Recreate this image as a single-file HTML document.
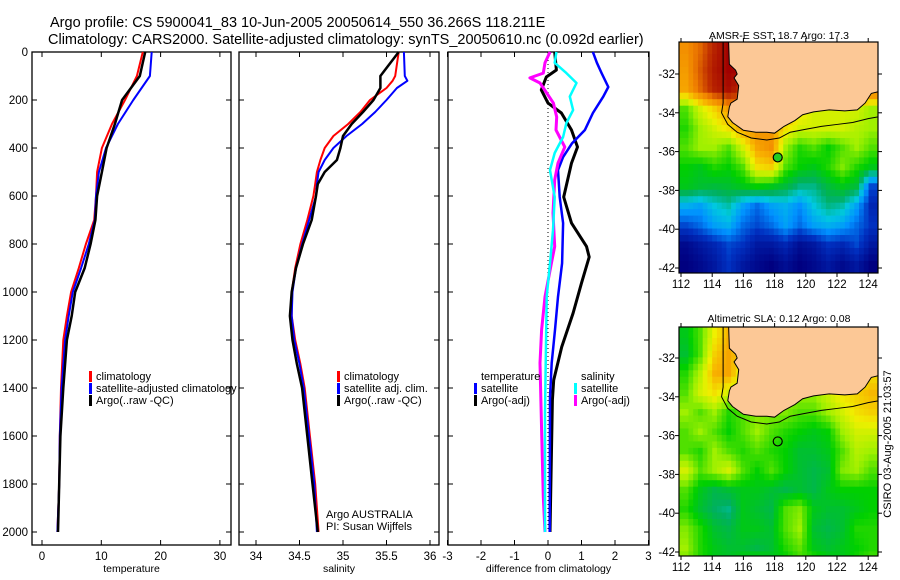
<!DOCTYPE html>
<html><head><meta charset="utf-8"><style>
body{margin:0;background:#fff;}
svg{display:block;font-family:"Liberation Sans",sans-serif;}
</style></head><body>
<svg id="s" width="900" height="580" viewBox="0 0 900 580" xmlns="http://www.w3.org/2000/svg">
<text x="50" y="27" font-size="14.5">Argo profile: CS 5900041_83 10-Jun-2005 20050614_550 36.266S 118.211E</text>
<text x="48" y="44" font-size="14.5">Climatology: CARS2000. Satellite-adjusted climatology: synTS_20050610.nc (0.092d earlier)</text>
<text x="779" y="39" font-size="10.5" text-anchor="middle">AMSR-E SST: 18.7 Argo: 17.3</text>
<text x="779" y="322" font-size="10.5" text-anchor="middle">Altimetric SLA: 0.12 Argo: 0.08</text>
<text transform="translate(891,444) rotate(-90)" font-size="11" text-anchor="middle">CSIRO 03-Aug-2005 21:03:57</text>
</svg>
<script>
// ---- data ----
const depthTicks=[0,200,400,600,800,1000,1200,1400,1600,1800,2000];
const tempTicks=[0,10,20,30];
const salTicks=[34,34.5,35,35.5,36];
const diffTicks=[-3,-2,-1,0,1,2,3];
const tDepth=[0,100,200,300,400,500,600,700,800,900,1000,1100,1200,1400,1600,1800,2000];
const tClim=[17.0,16.0,14.0,11.8,10.1,9.3,9.1,8.8,7.4,6.2,4.9,4.2,3.6,3.2,3.0,2.9,2.6];
const tSat=[18.5,18.2,15.4,12.8,10.8,9.6,9.1,8.9,7.9,6.6,5.2,4.5,3.9,3.3,3.0,2.9,2.6];
const tArgo=[17.4,16.5,13.5,12.3,10.9,10.1,9.3,9.0,8.2,7.2,5.6,5.0,4.2,3.6,3.1,2.9,2.7];
const sDepth=[0,100,120,150,200,250,300,350,400,450,500,550,600,700,800,900,1000,1100,1200,1300,1400,1600,1800,2000];
const sClim=[35.64,35.6,35.57,35.5,35.31,35.2,35.06,34.89,34.79,34.74,34.7,34.68,34.66,34.59,34.51,34.45,34.41,34.41,34.45,34.51,34.56,34.62,34.68,34.72];
const sSat=[35.7,35.71,35.74,35.62,35.5,35.37,35.22,35.04,34.89,34.79,34.72,34.7,34.69,34.61,34.53,34.46,34.42,34.41,34.44,34.5,34.55,34.61,34.67,34.7];
const sArgo=[35.64,35.43,35.43,35.43,35.35,35.23,35.1,35.0,34.97,34.93,34.79,34.71,34.69,34.64,34.54,34.46,34.41,34.39,34.42,34.47,34.53,34.59,34.65,34.71];
const dTSatDepth=[0,45,88,146,186,254,325,380,438,492,604,713,880,1020,1158,1296,1438,2000];
const dTSat=[1.34,1.46,1.6,1.8,1.65,1.34,1.1,0.72,0.45,0.3,0.35,0.45,0.42,0.3,0.21,0.11,0.06,0.05];
const dTArgoDepth=[0,75,104,158,213,254,325,396,463,604,713,810,854,963,1088,1229,1367,1450,2000];
const dTArgo=[0.2,0.25,-0.05,-0.2,0,0.4,0.7,0.88,0.7,0.47,0.7,1.15,1.23,1.0,0.75,0.41,0.17,0.13,0.06];
const dSSatDepth=[0,45,88,129,186,242,296,354,421,492,604,742,880,1020,1500,2000];
const dSSat=[0.25,0.2,0.55,0.85,0.65,0.75,0.55,0.45,0.2,0.06,0.2,0.15,0.06,-0.04,-0.09,-0.09];
const dSArgoDepth=[0,45,88,108,129,171,213,271,325,396,463,533,671,810,880,1020,1158,1296,1575,1854,2000];
const dSArgo=[0.06,-0.09,-0.14,-0.54,-0.24,-0.04,0.16,0.26,0.24,0.5,0.3,0.2,0.15,0.2,0.1,-0.09,-0.19,-0.24,-0.19,-0.14,-0.09];
const lonTicks=[112,114,116,118,120,122,124];
const latTicks=[-32,-34,-36,-38,-40,-42];
const sstGrid=[
[.72,.78,.88,.95,.95,.95,.9,.9,.9,.9,.9,.9,.9,.9],
[.70,.80,.90,.95,.93,.9,.9,.9,.9,.9,.9,.9,.9,.9],
[.68,.78,.88,.92,.85,.8,.8,.8,.8,.8,.8,.8,.8,.8],
[.45,.55,.62,.7,.72,.7,.7,.7,.6,.55,.55,.55,.55,.5],
[.42,.5,.55,.6,.68,.72,.7,.6,.55,.55,.55,.55,.52,.5],
[.45,.5,.5,.45,.55,.68,.72,.5,.42,.45,.4,.45,.5,.45],
[.4,.38,.42,.4,.45,.6,.62,.45,.4,.38,.42,.48,.42,.38],
[.38,.36,.35,.36,.38,.4,.38,.35,.3,.3,.35,.38,.35,.12],
[.22,.2,.25,.28,.2,.15,.2,.22,.18,.25,.3,.28,.2,.08],
[.12,.15,.2,.22,.15,.12,.15,.2,.15,.2,.22,.2,.15,.1],
[.02,.05,.08,.12,.1,.05,.05,.08,.03,.05,.1,.08,.12,.05],
[0,.02,.05,.1,.05,.02,0,.03,0,.02,.05,.02,.05,0],
[0,.02,.05,.1,.05,.02,0,.03,0,.02,.05,.02,.05,0]];
const slaGrid=[
[.38,.45,.58,.66,.66,.5,.5,.5,.5,.5,.5,.5,.5,.5],
[.36,.45,.62,.68,.6,.5,.5,.5,.5,.5,.5,.5,.5,.5],
[.42,.52,.66,.68,.55,.5,.5,.5,.5,.5,.5,.5,.55,.6],
[.45,.55,.6,.55,.5,.5,.5,.5,.5,.5,.55,.6,.62,.65],
[.5,.45,.5,.42,.45,.48,.48,.48,.45,.45,.5,.55,.6,.62],
[.45,.5,.45,.4,.45,.5,.45,.42,.4,.38,.4,.5,.55,.55],
[.45,.42,.5,.45,.42,.45,.42,.4,.36,.36,.38,.45,.52,.5],
[.55,.45,.5,.55,.45,.4,.45,.4,.36,.34,.36,.48,.5,.45],
[.45,.38,.34,.36,.38,.38,.36,.34,.36,.34,.38,.4,.4,.4],
[.42,.36,.32,.3,.38,.36,.34,.45,.48,.38,.36,.36,.38,.4],
[.48,.42,.36,.34,.38,.38,.36,.45,.5,.36,.34,.36,.42,.42],
[.5,.42,.38,.36,.36,.34,.36,.42,.46,.38,.36,.38,.4,.42],
[.46,.42,.38,.38,.42,.46,.4,.38,.42,.46,.42,.38,.42,.46]];
const coastLon=[115.05,115.1,115.5,115.6,115.4,115.7,115.6,115.2,115.1,115.0,115.3,116.0,116.8,117.5,118.0,118.6,119.3,119.8,120.5,121.5,122.5,123.3,123.8,124.2,124.7,124.7];
const coastLat=[-30.3,-31.5,-31.8,-32.0,-32.2,-32.6,-33.3,-33.5,-33.7,-34.2,-34.5,-34.9,-35.0,-35.0,-35.05,-34.7,-34.4,-34.1,-33.95,-33.85,-33.9,-33.85,-33.5,-33.0,-32.9,-30.3];
const shelfLon=[114.7,114.7,114.6,115.0,115.6,116.5,117.5,118.3,119.0,120.0,121.0,122.0,123.0,124.0,124.7];
const shelfLat=[-30.3,-33.5,-34.0,-34.6,-35.0,-35.3,-35.4,-35.3,-35.0,-34.85,-34.7,-34.6,-34.5,-34.3,-34.2];
const argoLon=118.2, argoLat=-36.3;

// ---- helpers ----
const NS='http://www.w3.org/2000/svg';
const svg=document.getElementById('s');
function mk(tag,attrs,parent){const e=document.createElementNS(NS,tag);for(const k in attrs)e.setAttribute(k,attrs[k]);(parent||svg).appendChild(e);return e;}
const Y=d=>52+d*0.24;
const panels=[
 {x0:32,x1:231,fx:v=>42+v*5.93,ticks:tempTicks,label:'temperature',name:'temperature-panel'},
 {x0:239,x1:439,fx:v=>256+(v-34)*87,ticks:salTicks,label:'salinity',name:'salinity-panel'},
 {x0:448,x1:649,fx:v=>548+v*33.5,ticks:diffTicks,label:'difference from climatology',name:'difference-panel'}];
const yTop=52,yBot=545;
panels.forEach((p,i)=>{
 const g=mk('g',{});
 
 
 mk('rect',{x:p.x0,y:yTop,width:p.x1-p.x0,height:yBot-yTop,fill:'none',stroke:'#000','stroke-width':1.3},g);
 depthTicks.forEach(d=>{
  mk('line',{x1:p.x0,x2:p.x0+5,y1:Y(d),y2:Y(d),stroke:'#000'},g);
  mk('line',{x1:p.x1,x2:p.x1-5,y1:Y(d),y2:Y(d),stroke:'#000'},g);
  if(i===0){const t=mk('text',{x:28,y:Y(d)+4,'font-size':11.5,'text-anchor':'end'},svg);t.textContent=d;
   
   }
 });
 p.ticks.forEach(v=>{
  const x=p.fx(v);
  mk('line',{x1:x,x2:x,y1:yBot,y2:yBot-5,stroke:'#000'},g);
  mk('line',{x1:x,x2:x,y1:yTop,y2:yTop+5,stroke:'#000'},g);
  const t=mk('text',{x:x,y:560,'font-size':11.5,'text-anchor':'middle'},svg);t.textContent=v;
  
  
 });
 const t=mk('text',{x:(p.x0+p.x1)/2,y:572,'font-size':10.5,'text-anchor':'middle'},svg);t.textContent=p.label;
 
 
});
function line(xs,ds,fx,col,w,name){
 const pts=xs.map((v,i)=>fx(v).toFixed(1)+','+Y(ds[i]).toFixed(1)).join(' ');
 const e=mk('polyline',{points:pts,fill:'none',stroke:col,'stroke-width':w,'stroke-linejoin':'round'});
 
 
}
const P=panels;
line(tClim,tDepth,P[0].fx,'#f00',2,'temp-climatology-line');
line(tSat,tDepth,P[0].fx,'#00f',2,'temp-satellite-line');
line(tArgo,tDepth,P[0].fx,'#000',2.5,'temp-argo-line');
line(sClim,sDepth,P[1].fx,'#f00',2,'sal-climatology-line');
line(sSat,sDepth,P[1].fx,'#00f',2,'sal-satellite-line');
line(sArgo,sDepth,P[1].fx,'#000',2.5,'sal-argo-line');
const zl=mk('line',{x1:P[2].fx(0),x2:P[2].fx(0),y1:yTop,y2:yBot-13,stroke:'#000','stroke-dasharray':'1,3'});


line(dTArgo,dTArgoDepth,P[2].fx,'#000',3,'diff-temp-argo-line');
line(dTSat,dTSatDepth,P[2].fx,'#00f',2.5,'diff-temp-satellite-line');
line(dSArgo,dSArgoDepth,P[2].fx,'#f0f',3,'diff-sal-argo-line');
line(dSSat,dSSatDepth,P[2].fx,'#0ff',2.5,'diff-sal-satellite-line');

function legend(x,y,col,label){
 if(col) mk('rect',{x:x-7,y:y-9,width:3,height:11,fill:col});
 const t=mk('text',{x:x,y:y,'font-size':11}); t.textContent=label;
 
 
}
legend(96,380,'#f00','climatology');legend(96,392,'#00f','satellite-adjusted climatology');legend(96,404,'#000','Argo(..raw -QC)');
legend(344,380,'#f00','climatology');legend(344,392,'#00f','satellite adj. clim.');legend(344,404,'#000','Argo(..raw -QC)');
legend(326,518,null,'Argo AUSTRALIA');legend(326,530,null,'PI: Susan Wijffels');
legend(481,380,null,'temperature');legend(481,392,'#00f','satellite');legend(481,404,'#000','Argo(-adj)');
legend(581,380,null,'salinity');legend(581,392,'#0ff','satellite');legend(581,404,'#f0f','Argo(-adj)');

// ---- maps ----
const stops=[[0,[0,0,128]],[.1,[0,48,192]],[.18,[0,144,255]],[.25,[0,200,224]],[.32,[0,176,96]],[.4,[0,208,0]],[.5,[160,240,0]],[.58,[240,240,0]],[.66,[248,176,0]],[.75,[240,128,0]],[.85,[192,48,0]],[.95,[160,0,0]],[1,[160,0,0]]];
function cmap(v){for(let i=1;i<stops.length;i++){if(v<=stops[i][0]){const a=stops[i-1],b=stops[i],f=(v-a[0])/(b[0]-a[0]);return 'rgb('+a[1].map((c,k)=>Math.round(c+(b[1][k]-c)*f)).join(',')+')';}}return 'rgb(160,0,0)';}
function sample(grid,r,c){
 const R=grid.length,C=grid[0].length;
 r=Math.max(0,Math.min(R-1,r));c=Math.max(0,Math.min(C-1,c));
 const r0=Math.floor(r),c0=Math.floor(c),r1=Math.min(R-1,r0+1),c1=Math.min(C-1,c0+1),fr=r-r0,fc=c-c0;
 return grid[r0][c0]*(1-fr)*(1-fc)+grid[r0][c1]*(1-fr)*fc+grid[r1][c0]*fr*(1-fc)+grid[r1][c1]*fr*fc;
}
function drawMap(grid,top,bot,lat32y,name){
 const x0=679,x1=878,lx=lon=>681+(lon-112)*15.6,ly=lat=>lat32y+(-32-lat)*19.4;
 const g=mk('g',{});
 
 
 const cid='clip'+name;
 const cp=mk('clipPath',{id:cid},g);mk('rect',{x:x0,y:top,width:x1-x0,height:bot-top},cp);
 const inner=mk('g',{'clip-path':'url(#'+cid+')'},g);
 const cw=(x1-x0)/14, sub=3;
 const R=grid.length,C=grid[0].length;
 for(let r=0;r<R*sub;r++)for(let c=0;c<C*sub;c++){
  const v=sample(grid,(r+0.5)/sub-0.5,(c+0.5)/sub-0.5);
  const la=-30.3-r/sub;
  mk('rect',{x:(x0+c*cw/sub).toFixed(2),y:ly(la).toFixed(2),width:(cw/sub+0.5).toFixed(2),height:(19.4/sub+0.5).toFixed(2),fill:cmap(v)},inner);
 }
 const land=mk('polygon',{points:coastLon.map((l,i)=>lx(l)+','+ly(coastLat[i])).join(' '),fill:'#fcc896',stroke:'#000','stroke-width':1},inner);
 
 
 mk('polyline',{points:shelfLon.map((l,i)=>lx(l)+','+ly(shelfLat[i])).join(' '),fill:'none',stroke:'#000','stroke-width':1},inner);
 const pt=mk('circle',{cx:lx(argoLon),cy:ly(argoLat),r:4.5,fill:name==='sst-map'?'#2c2':'none',stroke:'#000','stroke-width':1.2},g);
 
 
 mk('rect',{x:x0,y:top,width:x1-x0,height:bot-top,fill:'none',stroke:'#000','stroke-width':1.2},g);
 lonTicks.forEach(l=>{const x=lx(l);mk('line',{x1:x,x2:x,y1:bot,y2:bot+4,stroke:'#000'},g);mk('line',{x1:x,x2:x,y1:top,y2:top-4,stroke:'#000'},g);
  const t=mk('text',{x:x,y:bot+15,'font-size':11.5,'text-anchor':'middle'},g);t.textContent=l;
  
  });
 latTicks.forEach(l=>{const y=ly(l);mk('line',{x1:x0,x2:x0-4,y1:y,y2:y,stroke:'#000'},g);mk('line',{x1:x1,x2:x1+4,y1:y,y2:y,stroke:'#000'},g);
  const t=mk('text',{x:675,y:y+4,'font-size':11.5,'text-anchor':'end'},g);t.textContent=l;
  
  });
}
drawMap(sstGrid,42,273,74,'sst-map');
drawMap(slaGrid,327,556,358,'sla-map');
</script>
</body></html>
